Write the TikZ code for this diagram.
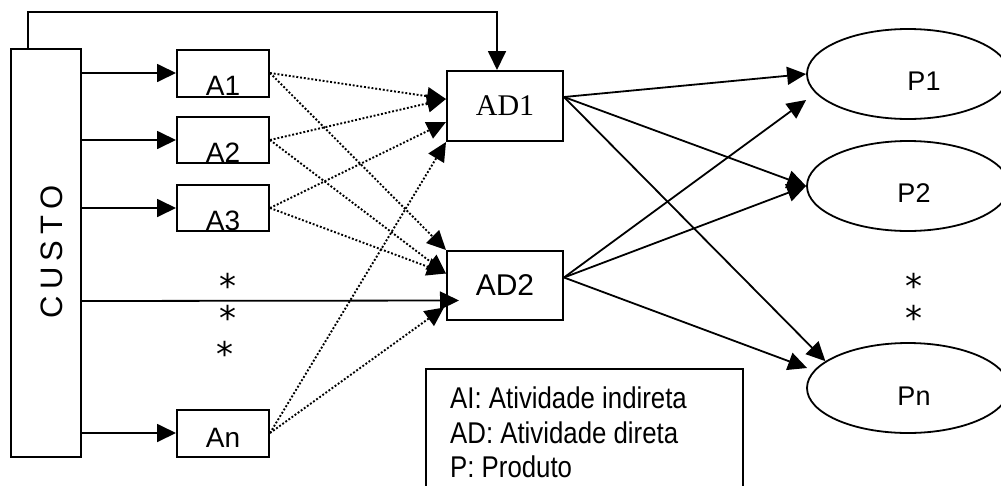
\documentclass[tikz,border=0pt]{standalone}
\usepackage{fontspec}
\setmainfont{Liberation Sans}
\newfontfamily\serifad{Liberation Serif}
\newfontfamily\narrowsans[FakeStretch=0.86]{Liberation Sans}
\newfontfamily\starfont{DejaVu Sans}
\usetikzlibrary{arrows.meta,shapes.geometric,positioning}

\tikzset{
    atbox/.style={draw, line width=2pt, inner sep=0pt, minimum width=92pt, minimum height=47pt,
        font=\fontsize{28}{30}\selectfont, text height=44pt, text depth=0pt},
    adbox/.style={draw, line width=2pt, inner sep=0pt, minimum width=116pt, minimum height=70pt,
        font=\fontsize{30}{32}\selectfont},
    prod/.style={draw, ellipse, line width=1.8pt, inner sep=0pt, minimum width=202pt, minimum height=90pt},
    plbl/.style={inner sep=0pt, font=\fontsize{27}{28}\selectfont},
    astk/.style={inner sep=0pt, font=\starfont\fontsize{34}{34}\selectfont},
    legtxt/.style={inner sep=0pt, anchor=base west, font=\narrowsans\fontsize{30}{32}\selectfont},
    flow/.style={->, line width=1.8pt},
    dots/.style={->, line width=1.9pt, dash pattern=on 1.9pt off 1.9pt}
}

\begin{document}
\begin{tikzpicture}[x=1pt, y=-1pt, >={Triangle[length=19pt,width=18pt]}]
        \clip (0,0) rectangle (1001,485);
        % cost block and indirect activities
        \node[draw, line width=2pt, inner sep=0pt, minimum width=70pt, minimum height=408pt] (custo) at (46,253) {};
        \node[rotate=90, anchor=base, inner sep=0pt, font=\addfontfeature{LetterSpace=20}\fontsize{31}{32}\selectfont] (custolbl) at (62,252) {CUSTO};
        \node[atbox] (a1) at (223,73) {A1};
        \node[atbox, minimum height=46pt] (a2) at (223,140) {A2};
        \node[atbox, minimum height=46pt] (a3) at (223,208) {A3};
        \node[atbox, text height=28pt] (an) at (223,433) {An};
        \node[astk] (s1) at (228,298) {\smash{*}};
        \node[astk] (s2) at (228,330) {\smash{*}};
        \node[astk] (s3) at (225,366) {\smash{*}};
        % direct activities
        \node[adbox, font=\serifad\fontsize{30}{32}\selectfont] (ad1) at (505,106) {AD1};
        \node[adbox, minimum height=69pt] (ad2) at (505,285.5) {AD2};
        % products
        \node[prod] (p1) at (908,74) {};
        \node[prod] (p2) at (908,186) {};
        \node[prod] (pn) at (908,388) {};
        \node[plbl] (p1lbl) at ([shift={(16,7)}]p1.center) {P1};
        \node[plbl] (p2lbl) at ([shift={(6,7)}]p2.center) {P2};
        \node[plbl] (pnlbl) at ([shift={(6,8)}]pn.center) {Pn};
        \node[astk] (s4) at (914,298) {\smash{*}};
        \node[astk] (s5) at (914,330) {\smash{*}};
        % legend
        \node[draw, line width=2pt, anchor=north west, inner sep=0pt, minimum width=317pt, minimum height=140pt] (legend) at (425,368) {};
        \node[legtxt] (leg1) at (450,408) {AI: Atividade indireta};
        \node[legtxt] (leg2) at (450,443) {AD: Atividade direta};
        \node[legtxt] (leg3) at (450,477) {P: Produto};

        \coordinate (t1) at ([shift={(0,-7)}]ad1.west);
        \coordinate (t2) at ([shift={(0,16)}]ad1.west);
        \coordinate (t3) at ([shift={(0,-12)}]ad2.west);
        \coordinate (t4) at ([shift={(-2,22)}]ad2.west);
        \coordinate (o1) at ([shift={(0,-9)}]ad1.east);
        \coordinate (o2) at ([shift={(0,-8)}]ad2.east);

        \foreach \n in {a1,a2,a3,an}
            \draw[flow] (custo.east |- \n) -- (\n);
        \draw[flow] ([shift={(0,48)}]custo.east) -- ([shift={(13,15)}]ad2.west);
        \draw[flow] ([xshift=18pt]custo.north west) -- ++(0,-36) -| ([xshift=-8pt]ad1.north);
        %\draw[flow] (custo) -- (ad1);
        \foreach \s/\t in {a1/t1, a1/ad2.north west, a2/t1, a2/t3, a3/t2, a3/t3, an/ad1.south west, an/t4}
            \draw[dots] (\s.east) -- (\t);
        \foreach \t in {p1.west, p2.west, pn.162}
            \draw[flow] (o1) -- (\t);
        \draw[flow] (o2) -- ([shift={(0,26)}]p1.west);
        \draw[flow] (o2) -- (p2.west);
        \draw[flow] (o2) -- ([shift={(1,-20)}]pn.west);
    \end{tikzpicture}
\end{document}
